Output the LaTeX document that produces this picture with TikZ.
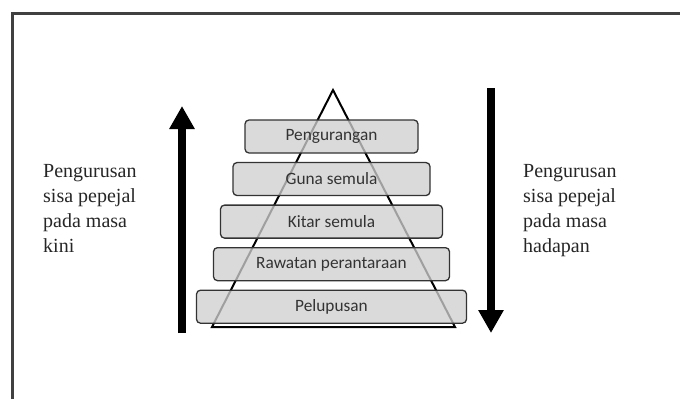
\documentclass[tikz,border=0pt]{standalone}
\usepackage{fontspec}
\setmainfont{Liberation Serif}
\newfontfamily\boxfont{Carlito}
\usepackage{xcolor}
\usetikzlibrary{arrows.meta,positioning}

\begin{document}
\begin{tikzpicture}[
  x=1pt, y=-1pt,
  node distance=8.25pt,
  tier/.style={draw=black!80, line width=1.3pt, rounded corners=4pt,
    fill=black!19, fill opacity=0.77, text opacity=1, text=black!80,
    minimum height=33pt, inner sep=0pt, font=\boxfont\fontsize{17.3}{19}\selectfont},
  side/.style={align=left, anchor=north west, inner sep=0pt, text=black!85,
    font=\fontsize{20}{25}\selectfont},
  bigarr/.style={-{Triangle[width=24pt,length=23pt]}, line width=8pt}
]
  \useasboundingbox (0,0) rectangle (680,399);
  \draw[line width=2.2pt, black!75] (12.5,399) -- (12.5,13.5) -- (680,13.5);

  % pyramid
  \coordinate (apex) at (333,90);
  \coordinate (bl) at (212,327);
  \coordinate (br) at (455,327);
  \draw[line width=2pt, line join=miter] (apex) -- (br) -- (bl) -- cycle;

  \node[tier, minimum width=173pt] (kurang) at (331.5,136.5) {Pengurangan};
  \node[tier, minimum width=197pt, below=of kurang] (guna) {Guna semula};
  \node[tier, minimum width=222pt, below=of guna] (kitar) {Kitar semula};
  \node[tier, minimum width=236pt, below=of kitar] (rawat) {Rawatan perantaraan};
  \node[tier, minimum width=270pt, below=of rawat] (lupus) {Pelupusan};

  % arrows
  \coordinate (kinibot) at (182,333);
  \coordinate (kinitop) at (182,106);
  \coordinate (depantop) at (491,88);
  \coordinate (depanbot) at (491,333);
  \draw[bigarr] (kinibot) -- (kinitop);
  \draw[bigarr] (depantop) -- (depanbot);

  \node[side] (kini) at (43,164) {Pengurusan\\sisa pepejal\\pada masa\\kini};
  \node[side] (depan) at (523,164) {Pengurusan\\sisa pepejal\\pada masa\\hadapan};
\end{tikzpicture}
\end{document}
